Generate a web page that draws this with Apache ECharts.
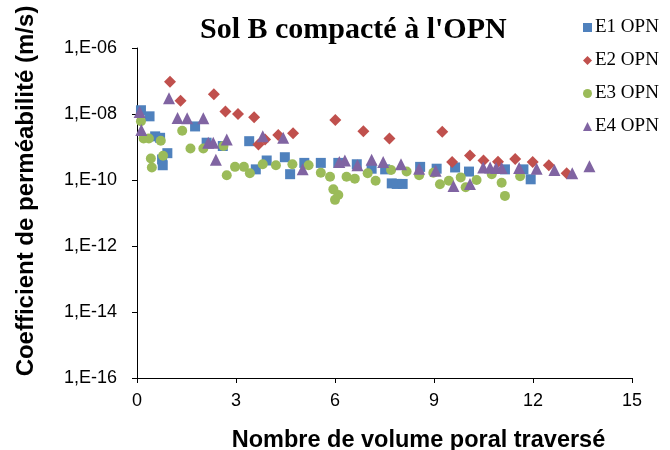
<!DOCTYPE html>
<html>
<head>
<meta charset="utf-8">
<script src="https://cdn.jsdelivr.net/npm/echarts@6/dist/echarts.min.js"></script>
<style>html,body{margin:0;padding:0;background:#fff}#c{width:670px;height:450px}</style>
</head>
<body>
<div id="c"></div>
<script>
const seriesNames = ['E1 OPN', 'E2 OPN', 'E3 OPN', 'E4 OPN'];
const yTickExponents = [-16, -14, -12, -10, -8, -6];
const xTicks = [0, 3, 6, 9, 12, 15];

const e1X = [0.12, 0.38, 0.55, 0.70, 0.76, 0.78, 0.92, 1.76, 2.11, 2.6, 3.4, 3.6, 3.93, 4.48, 4.64, 5.07, 5.57, 6.1, 6.66, 7.11, 7.52, 7.72, 7.87, 8.05, 8.58, 9.08, 9.64, 10.06, 11.15, 11.71, 11.93];
const e1Y = [1.3e-8, 8.5e-9, 2.1e-9, 1.9e-9, 4.2e-10, 2.8e-10, 6.5e-10, 4.2e-9, 1.35e-9, 1.07e-9, 1.5e-9, 2.1e-10, 3.9e-10, 4.9e-10, 1.5e-10, 3.3e-10, 3.3e-10, 3.3e-10, 3.0e-10, 2.2e-10, 2.1e-10, 7.9e-11, 7.6e-11, 7.6e-11, 2.5e-10, 2.2e-10, 2.4e-10, 1.8e-10, 2.1e-10, 2.1e-10, 1.05e-10];

const e2X = [1.0, 1.32, 2.33, 2.68, 3.06, 3.55, 3.68, 3.88, 4.28, 4.73, 6.01, 6.86, 7.65, 9.25, 9.55, 10.09, 10.5, 10.94, 11.46, 11.99, 12.48, 13.02];
const e2Y = [9.5e-8, 2.5e-8, 4.0e-8, 1.2e-8, 1.0e-8, 8.0e-9, 1.2e-9, 1.7e-9, 2.3e-9, 2.6e-9, 6.6e-9, 3.0e-9, 1.8e-9, 2.9e-9, 3.5e-10, 5.5e-10, 3.9e-10, 3.6e-10, 4.3e-10, 3.5e-10, 2.8e-10, 1.6e-10];

const e3X = [0.12, 0.2, 0.36, 0.42, 0.45, 0.72, 0.79, 1.37, 1.62, 2.01, 2.62, 2.72, 2.97, 3.24, 3.42, 3.81, 4.21, 4.71, 5.2, 5.57, 5.85, 5.95, 6.0, 6.1, 6.35, 6.6, 6.99, 7.23, 7.7, 8.17, 8.55, 8.98, 9.18, 9.45, 9.81, 9.96, 10.29, 10.75, 11.05, 11.15, 11.61];
const e3Y = [6.0e-9, 1.8e-9, 1.8e-9, 4.5e-10, 2.4e-10, 1.55e-9, 5.4e-10, 3.1e-9, 9.0e-10, 9.0e-10, 1.07e-9, 1.4e-10, 2.5e-10, 2.5e-10, 1.6e-10, 3.0e-10, 2.8e-10, 3.0e-10, 2.8e-10, 1.65e-10, 1.25e-10, 5.2e-11, 2.5e-11, 3.5e-11, 1.25e-10, 1.1e-10, 1.6e-10, 9.5e-11, 2.0e-10, 1.8e-10, 1.4e-10, 1.65e-10, 7.4e-11, 9.5e-11, 1.2e-10, 6.0e-11, 1.0e-10, 1.5e-10, 8.3e-11, 3.3e-11, 1.3e-10];

const e4X = [0.08, 0.13, 0.97, 1.23, 1.52, 2.01, 2.16, 2.31, 2.39, 2.72, 3.81, 4.43, 5.02, 6.13, 6.3, 6.68, 7.11, 7.46, 8.0, 8.55, 9.05, 9.59, 10.09, 10.49, 10.7, 10.88, 11.05, 11.58, 12.11, 12.65, 13.19, 13.71];
const e4Y = [1.15e-8, 3.3e-9, 3.0e-8, 7.5e-9, 7.4e-9, 7.4e-9, 1.35e-9, 1.35e-9, 4.1e-10, 1.7e-9, 2.1e-9, 1.9e-9, 2.1e-10, 3.5e-10, 3.9e-10, 2.8e-10, 4.1e-10, 3.5e-10, 3.0e-10, 2.2e-10, 1.9e-10, 6.6e-11, 7.6e-11, 2.4e-10, 2.4e-10, 2.3e-10, 2.3e-10, 2.3e-10, 2.2e-10, 2.0e-10, 1.6e-10, 2.6e-10];

function pts(xs, ys) { return xs.map((x, i) => [x, Math.log10(ys[i])]); }

const colors = ['#4F81BD', '#C0504D', '#9BBB59', '#8064A2'];
const symbols = ['rect', 'diamond', 'circle', 'triangle'];
const sizes = [10, 12, 10, 12];
const datasets = [pts(e1X, e1Y), pts(e2X, e2Y), pts(e3X, e3Y), pts(e4X, e4Y)];

const chart = echarts.init(document.getElementById('c'), null, {renderer: 'canvas'});
chart.setOption({
  animation: false,
  backgroundColor: '#ffffff',
  title: {
    text: "Sol B compacté à l'OPN",
    left: 195, top: 10,
    textStyle: {fontFamily: 'Liberation Serif', fontWeight: 'bold', fontSize: 30, color: '#000'}
  },
  legend: {
    orient: 'vertical', left: 578, top: 13,
    itemWidth: 9, itemHeight: 9, itemGap: 14,
    textStyle: {fontFamily: 'Liberation Serif', fontSize: 19, color: '#000', padding: [0,0,0,-2]},
    data: seriesNames
  },
  grid: {left: 137, right: 38, top: 48, bottom: 72, containLabel: false, outerBoundsMode: 'none'},
  xAxis: {
    type: 'value', min: 0, max: 15, interval: 3,
    name: 'Nombre de volume poral traversé', nameLocation: 'middle', nameGap: 51,
    nameTextStyle: {fontFamily: 'Liberation Sans', fontWeight: 'bold', fontSize: 23.5, color: '#000', padding: [0, 0, 0, 68]},
    axisLine: {show: true, onZero: false, lineStyle: {color: '#000', width: 1}},
    axisTick: {show: true, length: 5, lineStyle: {color: '#000'}},
    axisLabel: {fontFamily: 'Liberation Sans', fontSize: 18, color: '#000', margin: 14,
      formatter: v => xTicks.includes(v) ? String(v) : ''},
    splitLine: {show: false}
  },
  yAxis: {
    type: 'value', min: yTickExponents[0], max: yTickExponents[yTickExponents.length - 1], interval: 2,
    name: 'Coefficient de perméabilité (m/s)', nameLocation: 'middle', nameGap: 99,
    nameTextStyle: {fontFamily: 'Liberation Sans', fontWeight: 'bold', fontSize: 24, color: '#000', padding: [0, 0, 0, 44]},
    axisLine: {show: true, onZero: false, lineStyle: {color: '#000', width: 1}},
    axisTick: {show: true, length: 5, lineStyle: {color: '#000'}},
    axisLabel: {fontFamily: 'Liberation Sans', fontSize: 18, color: '#000', margin: 20,
      formatter: v => '1,E' + (v < 0 ? '-' : '+') + String(Math.abs(v)).padStart(2, '0')},
    splitLine: {show: false}
  },
  series: seriesNames.map((n, i) => ({
    name: n, type: 'scatter', data: datasets[i],
    symbol: symbols[i], symbolSize: sizes[i],
    itemStyle: {color: colors[i], opacity: 1},
    z: 2 + i
  }))
});
</script>
</body>
</html>
